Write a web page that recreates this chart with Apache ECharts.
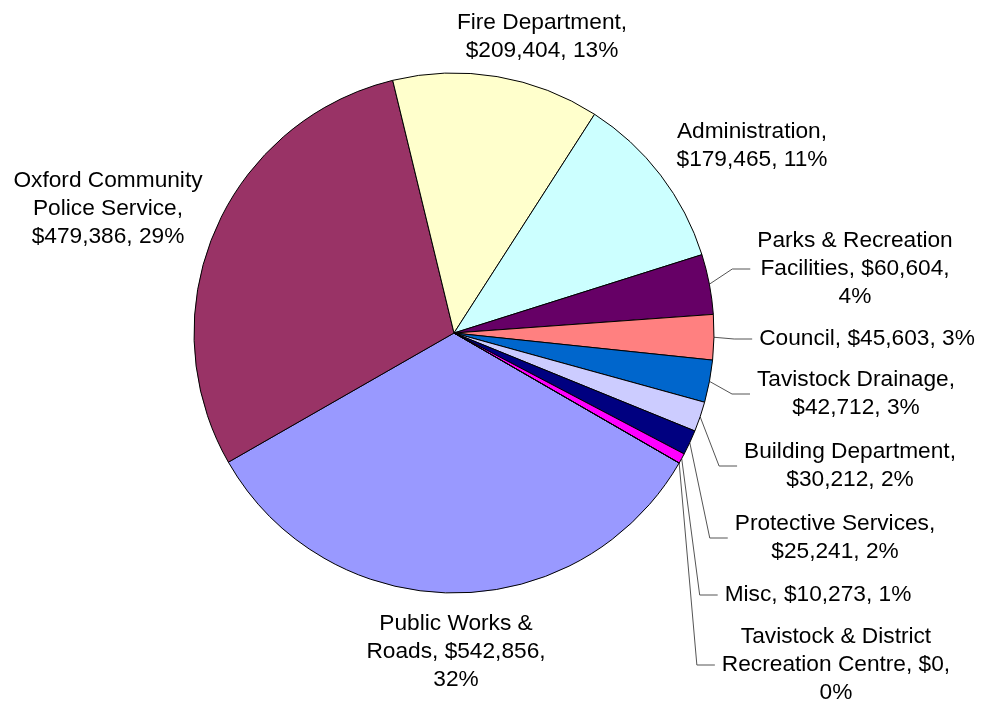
<!DOCTYPE html>
<html>
<head>
<meta charset="utf-8">
<title>Budget by Department</title>
<script src="https://cdn.jsdelivr.net/npm/echarts@6/dist/echarts.min.js"></script>
<style>
  html, body { margin: 0; padding: 0; background: #fff; }
  #chart { width: 985px; height: 708px; }
</style>
</head>
<body>
<div id="chart"></div>
<script>
// series order as in the spreadsheet (first slice = Public Works)
const categories = [
  'Public Works & Roads',
  'Oxford Community Police Service',
  'Fire Department',
  'Administration',
  'Parks & Recreation Facilities',
  'Council',
  'Tavistock Drainage',
  'Building Department',
  'Protective Services',
  'Misc',
  'Tavistock & District Recreation Centre'
];
const amounts = [542856, 479386, 209404, 179465, 60604, 45603, 42712, 30212, 25241, 10273, 0];
// percentages as printed on the chart
const percents = [32, 29, 13, 11, 4, 3, 3, 2, 2, 1, 0];

// classic Excel pie palette
const colors = ['#9999FF', '#993366', '#FFFFCC', '#CCFFFF', '#660066', '#FF8080',
  '#0066CC', '#CCCCFF', '#000080', '#FF00FF', '#FFFF00'];

// how the label text wraps: words per line
const wordsPerLine = [[3, 2, 1], [2, 2, 2], [2, 2], [1, 2], [3, 2, 1], [3],
  [2, 2], [2, 2], [2, 2], [3], [3, 3, 1]];
// label block centres (px)
const labelPos = [[456, 652], [108, 209], [542, 37], [752, 146], [855, 269], [867, 339],
  [856, 394], [850, 466], [835, 538], [818, 595], [836, 665]];
// which labels get a leader line
const leader = [false, false, false, false, true, true, true, true, true, true, true];

function labelText(i) {
  const words = (categories[i] + ', $' + amounts[i].toLocaleString('en-US') + ', ' + percents[i] + '%').split(' ');
  const lines = [];
  let k = 0;
  wordsPerLine[i].forEach(function (n) {
    lines.push(words.slice(k, k + n).join(' '));
    k += n;
  });
  return lines.join('\n');
}

const chart = echarts.init(document.getElementById('chart'));

chart.setOption({
  backgroundColor: '#fff',
  animation: false,
  series: [{
    type: 'pie',
    center: [454, 333],
    radius: 260,
    startAngle: -30,
    clockwise: true,
    avoidLabelOverlap: false,
    itemStyle: { borderColor: '#000', borderWidth: 1 },
    emphasis: { disabled: true },
    label: {
      show: true,
      position: 'outside',
      formatter: function (p) { return labelText(p.dataIndex); },
      fontFamily: '"Liberation Sans", Arial, sans-serif',
      fontSize: 22.7,
      lineHeight: 28,
      color: '#000',
      padding: [0, 7]
    },
    labelLine: {
      show: true,
      length: 15,
      length2: 18,
      minTurnAngle: 10,
      lineStyle: { color: '#555', width: 1 }
    },
    labelLayout: function (params) {
      const p = labelPos[params.dataIndex];
      return { x: p[0], y: p[1], align: 'center', verticalAlign: 'middle' };
    },
    data: categories.map(function (name, i) {
      return {
        name: name,
        value: amounts[i],
        itemStyle: { color: colors[i] },
        labelLine: { show: leader[i] }
      };
    })
  }]
});
</script>
</body>
</html>
